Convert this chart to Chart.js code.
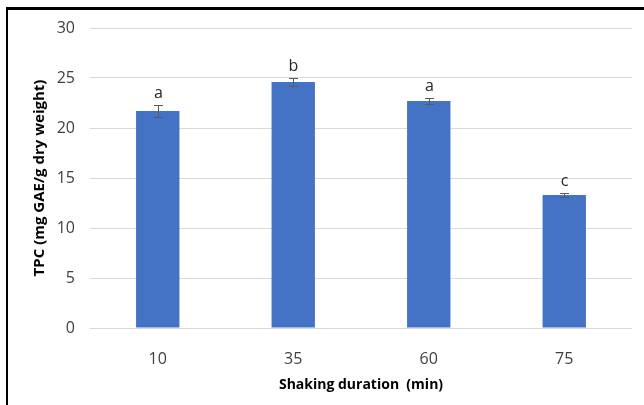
<!DOCTYPE html>
<html>
<head>
<meta charset="utf-8">
<script src="https://cdn.jsdelivr.net/npm/chart.js@4"></script>
<style>
  html, body { margin: 0; padding: 0; background: #fff; }
  #wrap { position: relative; width: 644px; height: 405px; }
  #frame { position: absolute; left: 6px; top: 7px; right: -10px; bottom: -10px;
           border-top: 3px solid #000; border-left: 2px solid #000; pointer-events: none; }
</style>
</head>
<body>
<div id="wrap">
  <canvas id="chart" width="644" height="405"></canvas>
  <div id="frame"></div>
</div>
<script>
// shaking duration (min) vs total phenolic content
const durations = ["10", "35", "60", "75"];
const tpcMeans = [21.7, 24.6, 22.7, 13.3];
const tpcErrors = [0.6, 0.35, 0.3, 0.2];
const groupLetters = ["a", "b", "a", "c"];
const yTicks = [0, 5, 10, 15, 20, 25, 30];

const fontFamily = "'Open Sans', 'Noto Sans', sans-serif";

// error bars + significance letters drawn on top of the bars
const errorBarPlugin = {
    id: "errorBars",
    afterDatasetsDraw(chart) {
        const ctx = chart.ctx;
        const x = chart.scales.x;
        const y = chart.scales.y;
        ctx.save();
        ctx.strokeStyle = "#595959";
        ctx.lineWidth = 1;
        tpcMeans.forEach((v, i) => {
            const cx = Math.round(x.getPixelForValue(i)) + 0.5;
            const top = y.getPixelForValue(v + tpcErrors[i]);
            const bot = y.getPixelForValue(v - tpcErrors[i]);
            ctx.beginPath();
            ctx.moveTo(cx, top); ctx.lineTo(cx, bot);
            ctx.moveTo(cx - 4.5, Math.round(top) + 0.5); ctx.lineTo(cx + 4.5, Math.round(top) + 0.5);
            ctx.moveTo(cx - 4.5, Math.round(bot) + 0.5); ctx.lineTo(cx + 4.5, Math.round(bot) + 0.5);
            ctx.stroke();

            ctx.fillStyle = "#262626";
            ctx.font = "16px " + fontFamily;
            ctx.textAlign = "center";
            ctx.textBaseline = "bottom";
            ctx.fillText(groupLetters[i], cx, top - 4);
        });
        ctx.restore();
    }
};

new Chart(document.getElementById("chart"), {
    type: "bar",
    data: {
        labels: durations,
        datasets: [{
            data: tpcMeans,
            backgroundColor: "#4472C4",
            borderWidth: 0,
            categoryPercentage: 1,
            barPercentage: 0.32
        }]
    },
    options: {
        responsive: false,
        animation: false,
        layout: { padding: { left: 27, right: 12, top: 28, bottom: 8 } },
        plugins: { legend: { display: false }, tooltip: { enabled: false } },
        scales: {
            x: {
                grid: { display: false },
                border: { display: false },
                ticks: { color: "#404040", font: { family: fontFamily, size: 16 }, padding: 14 },
                title: {
                    display: true, text: "Shaking duration  (min)", color: "#000",
                    font: { family: fontFamily, size: 14, weight: "bold" },
                    padding: { top: 4, bottom: 4 }
                },
                afterFit: s => { s.height = 69; }
            },
            y: {
                min: 0, max: 30,
                afterBuildTicks: s => { s.ticks = yTicks.map(v => ({ value: v })); },
                grid: { color: "#d9d9d9", drawTicks: false },
                border: { display: false },
                ticks: { color: "#404040", font: { family: fontFamily, size: 16 }, padding: 15 },
                title: {
                    display: true, text: "TPC (mg GAE/g dry weight)", color: "#000",
                    font: { family: fontFamily, size: 15, weight: "bold" },
                    padding: { top: 4, bottom: 4 }
                },
                afterFit: s => { s.width = 63; }
            }
        }
    },
    plugins: [errorBarPlugin]
});
</script>
</body>
</html>
